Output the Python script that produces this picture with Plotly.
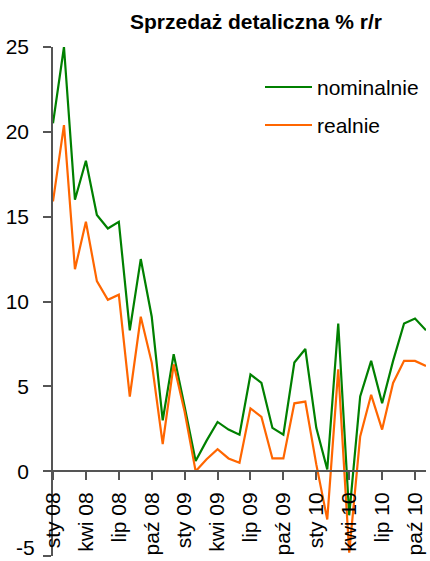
import plotly.graph_objects as go

months = ["sty 08", "lut 08", "mar 08", "kwi 08", "maj 08", "cze 08", "lip 08", "sie 08", "wrz 08", "paź 08", "lis 08", "gru 08",
          "sty 09", "lut 09", "mar 09", "kwi 09", "maj 09", "cze 09", "lip 09", "sie 09", "wrz 09", "paź 09", "lis 09", "gru 09",
          "sty 10", "lut 10", "mar 10", "kwi 10", "maj 10", "cze 10", "lip 10", "sie 10", "wrz 10", "paź 10", "lis 10"]

nominalnie = [20.5, 25.0, 16.0, 18.3, 15.1, 14.3, 14.7, 8.3, 12.5, 9.1, 3.0, 6.9,
              3.8, 0.6, 1.8, 2.9, 2.45, 2.15, 5.7, 5.2, 2.55, 2.15, 6.4, 7.2,
              2.55, 0.1, 8.7, -2.6, 4.4, 6.5, 4.0, 6.5, 8.7, 9.0, 8.3]
realnie = [15.9, 20.4, 11.9, 14.7, 11.2, 10.1, 10.4, 4.4, 9.1, 6.4, 1.6, 6.3,
           3.5, 0.0, 0.7, 1.3, 0.75, 0.5, 3.7, 3.2, 0.75, 0.75, 4.0, 4.1,
           0.4, -2.85, 6.0, -4.8, 2.05, 4.5, 2.45, 5.2, 6.5, 6.5, 6.2]

series_names = ["nominalnie", "realnie"]
colors = ["#008000", "#FF6600"]
tick_labels = months[::3]
y_ticks = [-5, 0, 5, 10, 15, 20, 25]
y_tick_text = ["", "0", "5", "10", "15", "20", "25"]  # "-5" drawn as annotation so it stays inside the page

FONT = "Liberation Sans, Arial, sans-serif"

fig = go.Figure()
for name, vals, col in zip(series_names, [nominalnie, realnie], colors):
    fig.add_trace(go.Scatter(x=months, y=vals, mode="lines", name=name,
                             line=dict(color=col, width=2.2), showlegend=False,
                             hoverinfo="skip"))

# manual legend (line sample + text)
leg_y = [87, 125]
for name, col, yy in zip(series_names, colors, leg_y):
    fig.add_shape(type="line", xref="paper", yref="paper",
                  x0=(265 - 53) / 373, x1=(312 - 53) / 373,
                  y0=(556 - yy) / 509, y1=(556 - yy) / 509,
                  line=dict(color=col, width=2))
    fig.add_annotation(xref="paper", yref="paper", x=(315 - 53) / 373, y=(556 - yy) / 509,
                       text=name, showarrow=False, xanchor="left", yanchor="middle",
                       font=dict(family=FONT, size=21, color="#000000"))

# lowest y tick label, kept inside the page
fig.add_annotation(xref="paper", yref="y", x=0, y=y_ticks[0], xshift=-17, yshift=-4,
                   text=str(y_ticks[0]), showarrow=False, xanchor="right", yanchor="bottom",
                   borderpad=0,
                   font=dict(family=FONT, size=21, color="#000000"))

fig.update_layout(
    width=430, height=561,
    margin=dict(l=53, r=4, t=47, b=5, autoexpand=False),
    paper_bgcolor="white", plot_bgcolor="white",
    title=dict(text="<b>Sprzedaż detaliczna % r/r</b>", x=256 / 430, xanchor="center",
               y=1 - 22 / 561, yanchor="middle", xref="container", yref="container",
               automargin=False,
               font=dict(family=FONT, size=21, color="#000000")),
    font=dict(family=FONT, size=20, color="#000000"),
    xaxis=dict(type="category", range=[0, 34], tickmode="array", tickvals=tick_labels,
               ticktext=tick_labels, tickangle=-90, showgrid=False, zeroline=False,
               showline=True, linecolor="#555555", linewidth=1.5,
               ticks="outside", ticklen=8, tickcolor="#555555", tickwidth=1.5,
               anchor="free", position=5 / 30, ticklabelstandoff=4, automargin=False,
               ticklabeloverflow="allow",
               tickfont=dict(family=FONT, size=21, color="#000000")),
    yaxis=dict(range=[-5, 25], tickmode="array", tickvals=y_ticks, ticktext=y_tick_text,
               showgrid=False,
               zeroline=False, showline=True, linecolor="#555555", linewidth=1.5,
               ticks="outside", ticklen=8, tickcolor="#555555", tickwidth=1.5,
               ticklabelstandoff=10, automargin=False, ticklabeloverflow="allow",
               tickfont=dict(family=FONT, size=21, color="#000000")),
)

fig.write_html("out.html", config={"displayModeBar": False},
               post_script="document.body.style.margin='0';document.body.style.overflow='hidden';")
